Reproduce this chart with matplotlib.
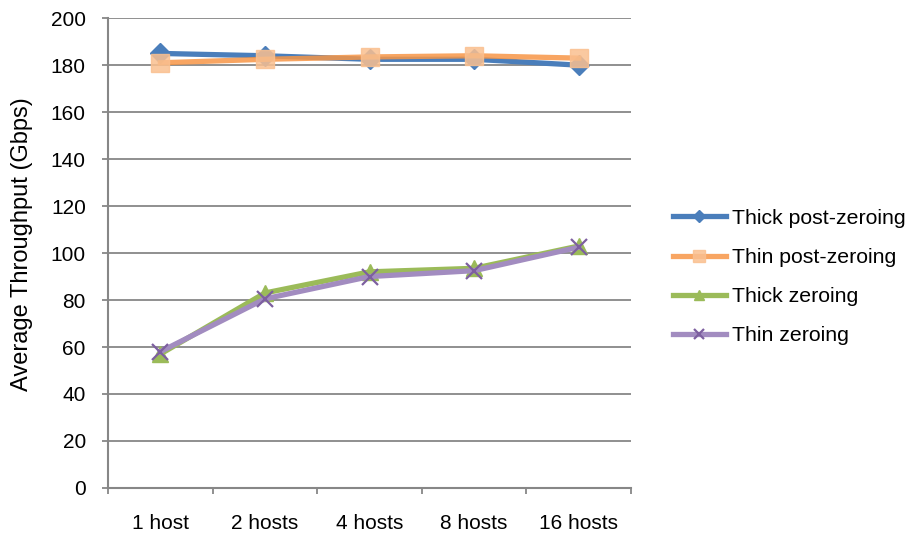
import matplotlib

matplotlib.use("Agg")
import matplotlib.pyplot as plt
import numpy as np

hosts = ["1 host", "2 hosts", "4 hosts", "8 hosts", "16 hosts"]
thick_post = [185, 184, 182.5, 182.5, 180]
thin_post = [181, 182.5, 183.5, 184, 183]
thick_zero = [57, 83, 92, 93.5, 103]
thin_zero = [58, 80.5, 90, 92.5, 102.5]

GRID = "#878787"

plt.rcParams.update({"font.family": ["Liberation Sans", "DejaVu Sans"], "font.size": 15})

fig = plt.figure(figsize=(9.08, 5.35), dpi=100)
ax = fig.add_axes([0.119, 0.088, 0.576, 0.878])
x = np.arange(len(hosts))

ax.plot(x, thick_post, color="#4A7EBB", lw=3.8, marker="D", ms=10,
        mfc="#4A7EBB", mec="#4A7EBB", label="Thick post-zeroing", zorder=3)
ax.plot(x, thin_post, color="#F79646", lw=3.8, alpha=0.85, marker="s", ms=13,
        mfc="#FAC090", mec="#FAC090", label="Thin post-zeroing", zorder=4)
ax.plot(x, thick_zero, color="#9BBB59", lw=3.8, marker="^", ms=12,
        mfc="#9BBB59", mec="#9BBB59", label="Thick zeroing", zorder=3)
ax.plot(x, thin_zero, color="#A28CC0", lw=3.8, marker="x", ms=11, mew=1.6,
        mec="#7D5FA0", label="Thin zeroing", zorder=4)

ax.set_xlim(-0.5, len(hosts) - 0.5)
ax.set_ylim(0, 200)
ax.set_yticks(range(0, 201, 20))
ax.set_xticks(x)
ax.set_xticklabels(hosts)
ax.set_xticks(np.arange(-0.5, len(hosts)), minor=True)
ax.tick_params(axis="x", which="major", length=0, pad=19)
ax.tick_params(axis="x", which="minor", length=4.5, width=1.3, color=GRID, direction="out")
ax.tick_params(axis="y", length=4.5, width=1.3, color=GRID, direction="out", pad=11.5)
ax.yaxis.grid(True, color=GRID, lw=1.3)
ax.set_axisbelow(True)
for side in ("top", "right"):
    ax.spines[side].set_visible(False)
for side in ("left", "bottom"):
    ax.spines[side].set_color(GRID)
    ax.spines[side].set_linewidth(1.5)

ax.set_ylabel("Average Throughput (Gbps)", fontsize=17, labelpad=13, y=0.52)

fig.legend(loc="center left", bbox_to_anchor=(0.72, 0.482), frameon=False,
           handlelength=2.5, handletextpad=0.3, labelspacing=0.95,
           markerscale=0.65, fontsize=15.3)

fig.savefig("out.png", dpi=100, facecolor="white")
